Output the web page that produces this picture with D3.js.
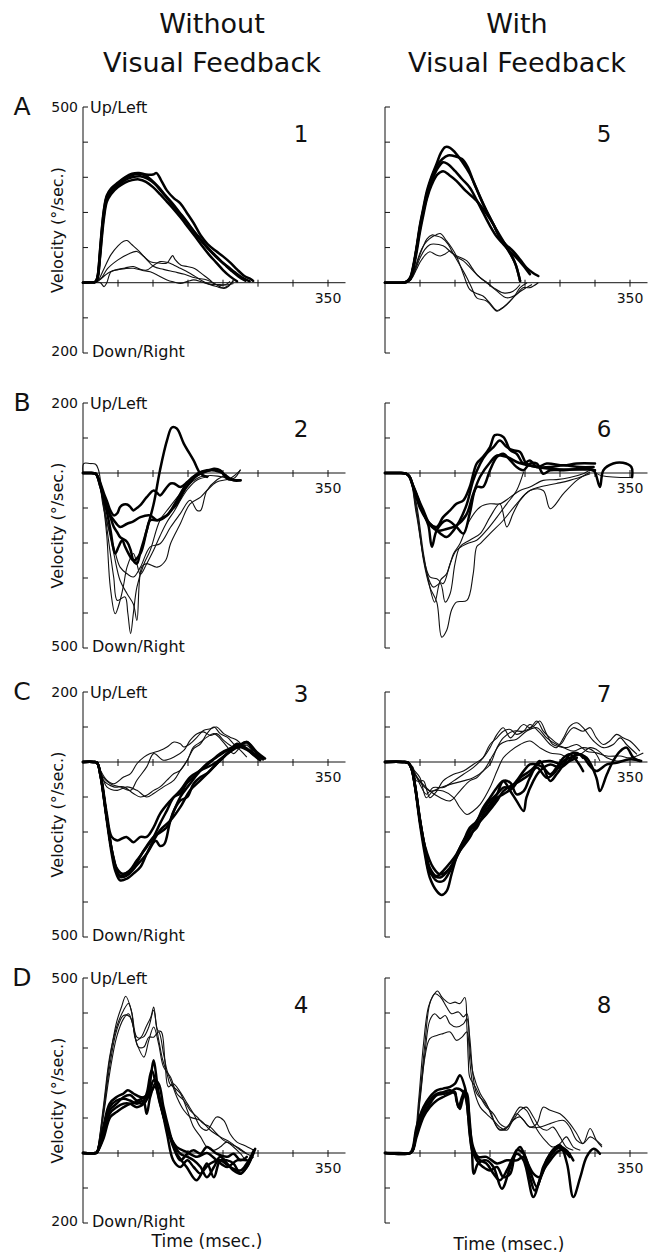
<!DOCTYPE html>
<html lang="en">
<head>
<meta charset="utf-8">
<script src="https://d3js.org/d3.v7.min.js"></script>
<title>Eye velocity traces</title>
<style>
  body { margin: 0; background: #fff; }
  text { font-family: "DejaVu Sans", sans-serif; fill: #111; }
</style>
</head>
<body>
<script>

// ---- data: each trace is a list of [time (ms), velocity (deg/s, + = up/left)] ----

var columnTitles = [["Without", "Visual Feedback"], ["With", "Visual Feedback"]];
var rowLetters = ["A", "B", "C", "D"];
var panelNumbers = [[1, 5], [2, 6], [3, 7], [4, 8]];
var yTopValues = [500, 200, 200, 500];
var yBottomValues = [-200, -500, -500, -200];
var timeTicks = [50, 100, 150, 200, 250, 300, 350];
var timeLabel = "Time (msec.)";
var velocityLabel = "Velocity (\u00B0/sec.)";

// panel 1
var p1Thick = [
  [[0,0],[10,1],[18,3],[21,20],[24,80],[27,150],[30,205],[34,245],[40,265],[50,282],[60,298],[70,306],[78,310],[88,306],[98,292],[108,272],[118,248],[128,225],[138,200],[148,175],[158,148],[168,124],[178,100],[188,80],[198,60],[208,44],[218,28],[228,14],[238,4]],
  [[0,0],[10,1],[18,3],[21,20],[24,85],[27,155],[30,210],[34,248],[40,268],[50,285],[60,300],[70,310],[80,312],[90,308],[100,308],[105,312],[112,290],[120,262],[130,240],[139,226],[148,200],[158,170],[168,135],[178,110],[190,90],[200,75],[210,58],[220,38],[230,20],[240,10],[243,5]],
  [[0,0],[10,1],[18,3],[21,15],[24,70],[27,140],[30,195],[34,238],[40,258],[50,278],[60,292],[70,300],[82,303],[92,296],[102,282],[112,260],[122,236],[132,212],[142,188],[152,162],[162,136],[172,112],[182,90],[192,70],[202,52],[212,34],[222,18],[232,6]],
  [[0,0],[10,1],[18,3],[21,15],[24,65],[27,130],[30,185],[34,230],[40,252],[50,272],[60,285],[70,292],[80,294],[90,287],[100,272],[110,252],[120,230],[130,208],[140,184],[150,158],[160,132],[170,105],[180,80],[190,58],[200,36],[210,18],[220,4]]
];
var p1Thin = [
  [[0,0],[10,1],[18,2],[22,8],[30,40],[40,80],[50,105],[58,118],[63,120],[70,108],[80,90],[90,68],[101,46],[115,38],[130,31],[145,24],[160,14],[177,8],[190,-5],[201,-16],[208,-10],[215,8]],
  [[0,0],[18,2],[25,10],[35,40],[50,65],[65,82],[77,89],[86,76],[96,60],[108,56],[120,56],[125,70],[128,77],[132,65],[140,50],[149,46],[160,40],[170,25],[180,10],[187,-2],[197,-8],[205,-4],[210,4]],
  [[0,0],[18,2],[25,10],[32,22],[39,31],[50,38],[60,42],[72,46],[82,38],[91,36],[100,48],[110,60],[120,58],[130,50],[139,41],[150,30],[160,18],[168,8],[180,-4],[191,-11],[200,-15],[206,-10],[215,4]],
  [[0,0],[18,2],[25,0],[30,-11],[34,0],[40,31],[50,37],[60,40],[72,41],[85,35],[96,31],[108,20],[120,8],[130,2],[139,-2],[150,4],[158,8],[170,2],[180,-4],[195,-5],[206,-6],[215,-2]]
];

// panel 5
var p5Thick = [
  [[0,0],[20,0],[30,2],[36,15],[40,45],[45,100],[50,165],[55,215],[60,262],[67,305],[74,340],[80,370],[86,386],[93,384],[100,371],[110,345],[121,310],[130,270],[140,224],[150,185],[160,148],[170,115],[180,80],[187,50],[193,5]],
  [[0,0],[20,0],[30,2],[36,12],[40,40],[45,95],[50,160],[55,210],[60,255],[67,300],[74,332],[82,352],[90,362],[100,360],[110,352],[118,330],[126,290],[135,248],[145,205],[155,165],[164,129],[173,108],[183,90],[193,66],[202,43],[210,30],[219,19]],
  [[0,0],[20,0],[30,2],[36,12],[40,40],[45,95],[50,155],[55,205],[60,245],[67,290],[75,325],[83,343],[90,337],[100,318],[110,295],[121,271],[131,235],[140,200],[150,162],[160,130],[169,110],[178,90],[188,71],[198,48],[207,24]],
  [[0,0],[20,0],[30,2],[36,10],[40,35],[45,85],[50,145],[55,195],[60,240],[67,280],[75,308],[83,317],[92,306],[102,290],[115,262],[131,233],[145,196],[155,165],[165,125],[175,95],[185,60],[193,5]]
];
var p5Thin = [
  [[0,0],[20,0],[30,2],[36,8],[40,25],[45,55],[50,85],[55,105],[60,118],[67,130],[73,136],[79,140],[88,119],[95,100],[102,76],[112,24],[121,-19],[130,-30],[140,-38],[150,-58],[160,-79],[170,-68],[179,-52],[186,-35],[193,-14],[203,0]],
  [[0,0],[20,0],[30,2],[36,8],[40,22],[45,50],[50,80],[55,105],[60,125],[67,136],[72,134],[81,128],[90,110],[98,81],[107,50],[117,14],[124,-15],[131,-43],[145,-52],[160,-81],[166,-75],[174,-62],[188,-33],[202,-14],[210,-5]],
  [[0,0],[20,0],[30,2],[36,8],[40,20],[45,45],[50,70],[57,95],[64,108],[69,110],[83,105],[98,81],[117,62],[125,40],[131,24],[145,0],[160,-24],[174,-43],[188,-33],[197,-14],[207,-14],[219,0]],
  [[0,0],[20,0],[30,2],[36,6],[40,18],[45,38],[50,58],[57,78],[64,88],[72,80],[79,76],[86,82],[93,90],[100,76],[112,62],[124,38],[136,14],[146,0],[155,-14],[169,-29],[183,-24],[193,-5]]
];

// panel 2
var p2Thick = [
  [[0,0],[10,0],[18,-2],[20,-7],[25,-30],[30,-59],[35,-85],[39,-107],[44,-121],[49,-115],[53,-97],[58,-90],[63,-90],[68,-98],[72,-107],[77,-100],[82,-92],[91,-69],[101,-50],[106,-57],[110,-64],[120,-40],[125,-30],[130,-30],[139,-40],[149,-26],[158,-11],[168,-2],[178,6],[187,12],[196,8],[206,-16],[215,-20],[225,-21]],
  [[0,0],[10,0],[18,-2],[20,-7],[25,-40],[30,-75],[34,-97],[39,-125],[44,-154],[49,-170],[53,-183],[63,-197],[68,-220],[72,-250],[77,-259],[82,-225],[87,-192],[91,-164],[96,-135],[106,-135],[113,-128],[120,-121],[127,-105],[134,-88],[148,-40],[163,-7],[172,3],[182,8]],
  [[0,0],[10,0],[18,-2],[20,-8],[25,-40],[30,-80],[34,-110],[39,-160],[46,-230],[51,-210],[56,-192],[60,-210],[65,-230],[72,-250],[82,-230],[91,-164],[101,-88],[110,8],[120,93],[127,130],[134,127],[144,84],[158,36],[168,-2],[177,-11]],
  [[0,0],[10,0],[18,-2],[20,-6],[25,-35],[30,-70],[34,-97],[39,-120],[44,-135],[53,-154],[63,-145],[72,-138],[82,-126],[96,-121],[106,-135],[120,-121],[134,-78],[148,-30],[163,-2],[177,8],[196,3],[215,-21],[225,-21]]
];
var p2Thin = [
  [[0,0],[1,27],[10,27],[18,25],[22,10],[29,-88],[34,-180],[39,-326],[46,-402],[53,-364],[58,-320],[63,-268],[72,-230],[77,-260],[82,-290],[91,-259],[101,-220],[110,-180],[120,-140],[130,-110],[140,-75],[150,-45],[163,-20],[180,-10]],
  [[0,0],[18,-2],[22,-15],[30,-100],[39,-230],[44,-300],[49,-364],[60,-354],[64,-400],[68,-459],[72,-400],[77,-326],[87,-260],[96,-221],[110,-135],[124,-97],[139,-59],[153,-30],[168,-11],[182,-7],[196,-10],[215,-16],[225,10]],
  [[0,0],[18,-2],[22,-15],[34,-135],[44,-230],[53,-307],[63,-345],[72,-375],[77,-421],[84,-268],[91,-259],[106,-269],[118,-250],[125,-202],[139,-145],[153,-88],[168,-69],[177,-50],[191,-26],[210,-16],[225,8]],
  [[0,0],[18,-2],[22,-12],[29,-97],[44,-211],[53,-269],[63,-288],[72,-297],[82,-269],[96,-211],[110,-202],[125,-155],[139,-116],[153,-78],[163,-107],[168,-107],[177,-50],[191,-20],[205,-5]]
];

// panel 6
var p6Thick = [
  [[0,0],[20,0],[30,-2],[35,-10],[40,-35],[45,-59],[50,-85],[55,-107],[64,-145],[74,-154],[83,-126],[93,-107],[102,-88],[112,-78],[121,-40],[131,27],[140,46],[150,74],[157,108],[169,103],[179,65],[188,55],[198,27],[207,36],[217,17],[231,27],[255,22],[274,27],[300,27]],
  [[0,0],[20,0],[30,-2],[35,-10],[40,-38],[45,-65],[50,-95],[55,-116],[62,-150],[67,-211],[74,-163],[88,-135],[102,-154],[112,-173],[121,-116],[131,-40],[140,-40],[150,8],[160,46],[169,55],[179,36],[188,17],[198,8],[207,27],[217,27],[226,-2],[236,8],[255,8],[283,12],[300,8]],
  [[0,0],[20,0],[30,-2],[35,-12],[40,-40],[45,-70],[50,-100],[60,-135],[69,-154],[79,-173],[88,-183],[98,-164],[107,-135],[117,-88],[126,-21],[136,27],[145,55],[155,74],[164,93],[174,74],[183,65],[193,60],[202,27],[217,17],[236,17],[255,22],[278,17],[298,17]],
  [[0,0],[20,0],[30,-2],[35,-10],[40,-36],[45,-62],[50,-90],[55,-115],[65,-150],[75,-165],[88,-160],[102,-150],[116,-120],[126,-60],[136,-10],[150,30],[160,50],[175,45],[190,30],[210,20],[235,12],[260,10],[285,10],[298,8],[307,-40],[312,8],[326,27],[340,29],[352,17],[353,-12]]
];
var p6Thin = [
  [[0,0],[20,0],[30,-2],[36,-15],[45,-88],[55,-230],[62,-307],[71,-369],[79,-307],[88,-288],[98,-230],[107,-202],[121,-135],[136,-97],[150,-88],[164,-88],[179,-69],[193,-50],[207,-40],[226,-21],[245,-19],[264,-13],[283,-2],[293,7],[310,-8],[352,-13]],
  [[0,0],[20,0],[30,-2],[36,-15],[45,-100],[55,-250],[64,-326],[74,-369],[81,-469],[88,-450],[95,-392],[102,-369],[117,-364],[126,-288],[131,-211],[136,-202],[150,-173],[169,-135],[188,-88],[207,-50],[226,-50],[236,-102],[255,-59],[274,-21],[293,3]],
  [[0,0],[20,0],[30,-2],[36,-15],[45,-110],[60,-288],[69,-326],[79,-316],[86,-369],[93,-345],[100,-259],[107,-211],[121,-192],[136,-173],[150,-126],[164,-88],[174,-154],[183,-116],[193,-78],[207,-50],[221,-40],[245,-30],[264,-21],[293,-2]],
  [[0,0],[20,0],[30,-2],[36,-15],[45,-120],[64,-297],[74,-302],[83,-316],[93,-259],[102,-221],[117,-202],[131,-192],[145,-164],[160,-126],[174,-88],[188,-50],[198,3]]
];

// panel 3
var p3Thick = [
  [[0,0],[15,0],[20,-2],[25,-33],[34,-148],[41,-214],[49,-224],[62,-214],[72,-229],[82,-214],[91,-214],[101,-186],[110,-148],[125,-110],[139,-81],[153,-43],[168,-24],[187,-5],[206,24],[220,43],[234,57],[244,33],[258,10]],
  [[0,0],[15,0],[20,-2],[25,-40],[34,-167],[41,-262],[46,-310],[53,-338],[63,-333],[72,-319],[82,-300],[91,-262],[101,-224],[110,-195],[125,-167],[139,-129],[153,-81],[168,-52],[182,-24],[196,5],[210,29],[225,48],[234,57],[248,29],[260,10]],
  [[0,0],[15,0],[20,-2],[25,-38],[34,-160],[41,-250],[46,-295],[56,-319],[65,-314],[77,-281],[91,-243],[101,-214],[110,-176],[120,-138],[130,-100],[139,-90],[148,-62],[163,-33],[177,-5],[191,14],[206,33],[220,48],[230,43],[244,24],[258,10]],
  [[0,0],[15,0],[20,-2],[25,-38],[34,-160],[43,-270],[53,-328],[63,-324],[77,-295],[91,-262],[104,-225],[110,-240],[116,-235],[125,-167],[139,-100],[153,-62],[168,-24],[182,0],[196,24],[210,38],[225,43],[239,29],[253,14]],
  [[0,0],[15,0],[20,-2],[25,-38],[34,-160],[43,-268],[53,-324],[72,-300],[87,-252],[101,-214],[120,-186],[130,-138],[139,-110],[149,-100],[158,-62],[168,-43],[177,-33],[191,-5],[201,14],[210,33],[220,52],[230,43],[244,19],[253,5]]
];
var p3Thin = [
  [[0,0],[15,0],[20,-2],[25,-24],[34,-52],[44,-62],[58,-43],[68,-33],[77,-5],[87,14],[96,24],[110,33],[120,43],[130,57],[139,52],[144,43],[153,52],[163,71],[172,90],[182,95],[191,100],[201,81],[210,71],[220,62],[230,43],[244,19],[258,5]],
  [[0,0],[15,0],[20,-2],[25,-33],[39,-62],[53,-71],[68,-81],[77,-52],[91,-14],[101,24],[115,5],[130,14],[144,33],[153,62],[163,81],[172,86],[182,76],[191,81],[201,62],[210,48],[220,38],[234,48],[244,24],[258,5]],
  [[0,0],[15,0],[20,-2],[29,-52],[44,-71],[58,-71],[72,-90],[82,-100],[91,-95],[101,-81],[110,-71],[120,-52],[130,-33],[139,-24],[149,5],[158,38],[168,52],[177,81],[187,100],[196,81],[206,71],[215,52],[225,33],[234,14]],
  [[0,0],[15,0],[20,-2],[34,-71],[49,-81],[63,-71],[77,-81],[91,-100],[101,-90],[115,-71],[130,-52],[139,-24],[149,5],[158,43],[168,57],[177,71],[187,81],[196,67],[206,43],[215,24],[225,43],[234,52],[244,24]]
];

// panel 7
var p7Thick = [
  [[0,0],[25,0],[33,-2],[38,-20],[43,-73],[50,-178],[57,-264],[64,-330],[74,-369],[81,-380],[88,-369],[95,-321],[102,-273],[112,-226],[121,-197],[131,-169],[140,-140],[150,-111],[160,-92],[169,-73],[179,-73],[188,-54],[198,-26],[207,-7],[217,-7],[226,-16],[236,-35],[245,-16],[255,12],[264,22],[274,3],[283,-26]],
  [[0,0],[25,0],[33,-2],[38,-20],[43,-70],[50,-170],[57,-250],[64,-311],[74,-340],[83,-340],[93,-311],[102,-273],[112,-235],[121,-207],[131,-188],[140,-150],[150,-121],[160,-92],[169,-54],[179,-59],[188,-92],[198,-83],[207,-45],[221,3],[236,-54],[245,-35],[255,-7],[264,22],[274,26],[283,12]],
  [[0,0],[25,0],[33,-2],[38,-20],[43,-70],[50,-168],[57,-245],[64,-302],[74,-326],[83,-311],[93,-288],[102,-264],[112,-226],[121,-188],[131,-169],[140,-131],[150,-102],[160,-73],[169,-54],[179,-83],[188,-111],[198,-140],[202,-102],[212,-54],[221,-26],[236,-7],[250,-16],[264,3],[274,12]],
  [[0,0],[25,0],[33,-2],[38,-18],[43,-68],[50,-165],[57,-240],[69,-302],[79,-321],[93,-302],[107,-245],[121,-197],[136,-169],[150,-131],[160,-102],[169,-92],[183,-73],[193,-45],[207,-26],[221,-2],[236,3],[255,-7],[274,22],[288,12],[302,-45],[307,-83],[317,-35],[326,3],[336,31],[345,41],[355,12],[364,3]],
  [[0,0],[25,0],[33,-2],[38,-18],[43,-68],[50,-165],[57,-245],[64,-316],[79,-330],[93,-302],[107,-254],[121,-216],[131,-178],[145,-149],[160,-111],[169,-83],[179,-69],[193,-54],[207,-35],[217,-16],[231,-45],[240,-35],[255,3],[264,12],[279,22],[293,-12],[302,-26],[317,-7],[331,-2],[350,8],[366,3]]
];
var p7Thin = [
  [[0,0],[25,0],[33,-2],[40,-15],[45,-54],[55,-54],[60,-83],[64,-102],[74,-83],[83,-54],[98,-35],[112,-26],[126,-7],[140,12],[150,41],[160,79],[169,98],[179,69],[188,88],[198,107],[207,98],[217,117],[226,88],[236,69],[250,50],[260,79],[269,98],[283,88],[293,98],[302,69],[312,50],[321,60],[331,79],[340,69],[350,60],[364,31]],
  [[0,0],[25,0],[33,-2],[40,-20],[50,-64],[59,-92],[69,-73],[83,-73],[98,-54],[112,-35],[126,-16],[140,12],[150,50],[160,69],[169,88],[179,93],[188,79],[198,88],[207,107],[221,84],[236,50],[245,41],[255,69],[264,102],[274,112],[283,98],[298,60],[312,41],[326,50],[336,69],[345,50],[360,22]],
  [[0,0],[25,0],[33,-2],[40,-20],[50,-45],[59,-102],[69,-83],[83,-83],[98,-102],[107,-130],[117,-150],[126,-140],[136,-121],[150,-73],[160,-26],[169,12],[179,31],[193,50],[207,60],[221,41],[236,26],[250,22],[264,12],[279,22],[293,41],[302,36],[317,12],[331,3],[350,8]],
  [[0,0],[25,0],[33,-2],[40,-25],[50,-54],[64,-83],[79,-102],[93,-111],[107,-83],[121,-54],[131,-45],[140,-26],[150,-7],[160,41],[169,69],[183,88],[198,88],[212,102],[221,117],[231,79],[240,50],[255,41],[269,31],[283,41],[298,31],[307,3]],
  [[0,0],[25,0],[33,-2],[42,-35],[64,-83],[79,-73],[93,-64],[112,-54],[126,-45],[140,-26],[155,22],[164,50],[174,60],[188,65],[202,88],[217,98],[231,69],[245,50],[259,41],[274,50],[288,31],[302,26],[317,17],[336,17],[350,12],[369,26]]
];

// panel 4
var p4Thick = [
  [[0,0],[18,0],[20,2],[29,74],[38,141],[48,160],[58,170],[64,179],[72,170],[82,160],[91,160],[98,236],[101,265],[106,198],[110,150],[117,93],[125,46],[134,-2],[148,-40],[162,-78],[172,-50],[182,-30],[196,-21],[210,-40],[225,-50],[234,-30],[244,8]],
  [[0,0],[18,0],[20,2],[29,65],[38,131],[48,150],[58,155],[67,150],[77,141],[86,150],[91,112],[96,160],[103,198],[110,150],[120,55],[129,-21],[139,-40],[149,-21],[158,-40],[168,-59],[177,-30],[187,-69],[196,-21],[206,-21],[215,-30],[225,-59],[234,-40],[246,12]],
  [[0,0],[18,0],[20,2],[29,55],[38,122],[48,141],[58,160],[68,165],[77,150],[87,160],[94,170],[101,208],[108,198],[115,131],[122,74],[129,27],[139,-2],[149,-11],[158,-21],[168,-40],[177,-69],[187,-40],[196,-11],[206,-30],[215,-50],[225,-59],[234,-40],[244,3]],
  [[0,0],[18,0],[20,2],[29,46],[38,112],[48,131],[58,141],[67,141],[77,131],[87,141],[96,170],[103,189],[110,141],[120,74],[129,17],[139,-21],[149,-2],[158,8],[168,-2],[177,17],[191,-2],[206,-11],[215,-2],[225,-21],[234,-11]],
  [[0,0],[18,0],[20,2],[29,40],[39,103],[48,117],[58,131],[68,141],[77,146],[84,141],[91,170],[98,236],[106,179],[115,103],[125,46],[134,17],[148,3],[163,-11],[177,0],[191,-21],[206,-40],[220,-21],[234,-21]]
];
var p4Thin = [
  [[0,0],[10,0],[18,0],[20,5],[29,122],[38,265],[48,374],[55,417],[61,448],[69,408],[76,322],[83,331],[90,360],[97,389],[101,417],[105,360],[110,303],[114,265],[120,227],[124,198],[129,189],[139,170],[149,122],[158,74],[168,46],[177,17],[187,8],[196,17],[205,31],[215,17],[225,-2],[234,-21],[244,-11]],
  [[0,0],[18,0],[20,5],[29,131],[38,274],[48,360],[58,408],[65,427],[70,398],[77,331],[86,331],[94,360],[101,408],[107,350],[112,346],[117,265],[122,189],[129,198],[139,174],[149,141],[158,112],[168,74],[177,65],[191,103],[201,93],[210,55],[220,31],[230,22],[244,8]],
  [[0,0],[18,0],[20,4],[29,112],[38,246],[48,350],[58,393],[67,389],[77,312],[87,274],[94,322],[101,360],[108,312],[115,246],[125,217],[134,170],[144,150],[153,122],[163,103],[172,84],[182,74],[191,55],[201,36],[210,27],[220,17],[234,-2]],
  [[0,0],[18,0],[20,3],[29,103],[38,227],[48,331],[58,384],[65,398],[72,360],[79,303],[87,303],[94,331],[101,331],[108,346],[115,284],[120,236],[127,198],[134,160],[144,122],[153,103],[168,93],[182,65],[196,46],[210,31],[225,8],[239,-7]]
];

// panel 8
var p8Thick = [
  [[0,0],[20,0],[36,0],[40,17],[45,74],[55,131],[64,160],[74,179],[83,184],[93,189],[100,198],[107,222],[114,189],[119,131],[124,17],[127,-59],[133,-30],[145,-21],[155,-40],[167,-102],[179,-40],[188,-2],[198,-21],[212,-126],[221,-78],[236,-11],[250,17],[259,8],[269,-21]],
  [[0,0],[36,0],[40,12],[45,65],[55,122],[64,150],[74,169],[83,174],[93,179],[100,169],[105,131],[110,160],[114,179],[119,103],[124,17],[131,-21],[140,-40],[150,-50],[160,-40],[169,-69],[179,-59],[188,8],[198,-2],[207,-50],[217,-97],[226,-40],[236,-2],[245,17],[255,8],[264,-11]],
  [[0,0],[36,0],[40,10],[45,55],[55,112],[64,141],[74,165],[83,169],[93,174],[102,184],[112,174],[117,141],[121,55],[126,-2],[136,-21],[145,-30],[155,-59],[164,-78],[174,-50],[183,-11],[193,17],[202,-21],[212,-59],[221,-69],[231,-21],[240,8],[250,22],[260,-30],[269,-126],[279,-69],[288,-11],[298,12],[307,-2]],
  [[0,0],[36,0],[40,8],[45,45],[55,103],[64,131],[74,150],[83,160],[93,170],[100,174],[102,150],[107,126],[112,160],[117,170],[121,74],[126,17],[133,-11],[145,-11],[160,-30],[174,-21],[188,-21],[198,-11],[207,-69],[214,-107],[226,-50],[236,-21],[250,8],[264,-2]]
];
var p8Thin = [
  [[0,0],[20,0],[36,0],[40,8],[48,150],[55,312],[62,417],[69,450],[75,463],[81,446],[86,436],[93,427],[100,431],[107,427],[114,444],[117,360],[119,265],[121,217],[129,189],[136,160],[145,131],[155,112],[164,84],[174,74],[183,103],[193,131],[202,122],[212,84],[221,55],[231,31],[240,17],[250,27],[259,46],[269,17],[279,8]],
  [[0,0],[36,0],[40,6],[50,170],[57,312],[64,427],[71,455],[79,446],[88,417],[95,398],[105,403],[112,389],[117,398],[121,303],[126,226],[136,170],[145,141],[155,93],[164,65],[174,74],[183,93],[193,122],[202,131],[212,103],[221,74],[231,65],[240,74],[250,46],[259,17],[269,8]],
  [[0,0],[36,0],[40,5],[50,160],[57,284],[64,379],[71,398],[79,384],[86,393],[93,369],[102,360],[112,369],[117,384],[121,331],[126,217],[131,170],[140,150],[150,122],[160,74],[169,65],[179,84],[188,112],[198,93],[207,74],[217,84],[226,131],[236,122],[250,112],[264,84],[274,55],[283,27],[293,70],[302,36],[310,17]],
  [[0,0],[36,0],[40,5],[50,150],[57,274],[64,327],[74,336],[83,341],[93,346],[102,322],[110,331],[117,346],[121,265],[126,189],[136,131],[145,112],[155,93],[164,74],[174,65],[183,93],[193,103],[207,74],[221,74],[236,84],[255,93],[264,74],[274,36],[283,27],[293,46],[302,36],[310,22]]
];

var thickByPanel = [[p1Thick, p5Thick], [p2Thick, p6Thick], [p3Thick, p7Thick], [p4Thick, p8Thick]];
var thinByPanel = [[p1Thin, p5Thin], [p2Thin, p6Thin], [p3Thin, p7Thin], [p4Thin, p8Thin]];

// ---- layout ----
var width = 651, height = 1257;
var colAxisX = [83, 385];          // pixel x of time 0
var colCenter = [212, 517];
var rowTop = [107, 403, 692, 978];
var rowBottom = [353, 648, 937, 1223];
var numberY = [134, 429, 694, 1005];
var pxPerMs = 0.7;

var svg = d3.select("body").append("svg")
  .attr("width", width)
  .attr("height", height);

// column titles
columnTitles.forEach(function (lines, c) {
  svg.append("text").attr("x", colCenter[c]).attr("y", 23)
    .attr("text-anchor", "middle").attr("dominant-baseline", "central")
    .style("font-size", "27px").text(lines[0]);
  svg.append("text").attr("x", colCenter[c]).attr("y", 62)
    .attr("text-anchor", "middle").attr("dominant-baseline", "central")
    .style("font-size", "27px").text(lines[1]);
});

rowLetters.forEach(function (letter, r) {
  var yScale = d3.scaleLinear()
    .domain([yBottomValues[r], yTopValues[r]])
    .range([rowBottom[r], rowTop[r]]);
  var y0 = yScale(0);

  for (var c = 0; c < 2; c++) {
    var ax = colAxisX[c];
    var xScale = d3.scaleLinear().domain([0, 350]).range([ax, ax + 350 * pxPerMs]);
    var g = svg.append("g");

    // y axis with inward ticks every 100
    g.append("line")
      .attr("x1", ax).attr("x2", ax)
      .attr("y1", rowTop[r]).attr("y2", rowBottom[r])
      .attr("stroke", "#111").attr("stroke-width", 1);
    g.selectAll(".yt")
      .data(d3.range(yBottomValues[r], yTopValues[r] + 1, 100).filter(function (v) { return v !== 0; }))
      .enter().append("line")
      .attr("x1", ax).attr("x2", ax + 5)
      .attr("y1", function (v) { return yScale(v); })
      .attr("y2", function (v) { return yScale(v); })
      .attr("stroke", "#111").attr("stroke-width", 1);

    // time axis along zero velocity
    g.append("line")
      .attr("x1", ax).attr("x2", xScale(375))
      .attr("y1", y0).attr("y2", y0)
      .attr("stroke", "#111").attr("stroke-width", 1);
    g.selectAll(".xt").data(timeTicks).enter().append("line")
      .attr("x1", function (t) { return xScale(t); })
      .attr("x2", function (t) { return xScale(t); })
      .attr("y1", y0 - 3).attr("y2", y0 + 4)
      .attr("stroke", "#111").attr("stroke-width", 1);
    g.append("text")
      .attr("x", xScale(350)).attr("y", y0 + 15)
      .attr("text-anchor", "middle").attr("dominant-baseline", "central")
      .style("font-size", "14px").text(timeTicks[timeTicks.length - 1]);

    // traces
    var line = d3.line()
      .x(function (d) { return xScale(d[0]); })
      .y(function (d) { return yScale(d[1]); })
      .curve(d3.curveCatmullRom.alpha(0.5));

    g.selectAll(".thin").data(thinByPanel[r][c]).enter().append("path")
      .attr("d", line).attr("fill", "none")
      .attr("stroke", "#111").attr("stroke-width", 1.1)
      .attr("stroke-linejoin", "round");
    g.selectAll(".thick").data(thickByPanel[r][c]).enter().append("path")
      .attr("d", line).attr("fill", "none")
      .attr("stroke", "#000").attr("stroke-width", 2.5)
      .attr("stroke-linejoin", "round").attr("stroke-linecap", "round");

    // panel number
    g.append("text")
      .attr("x", c === 0 ? 301 : 604).attr("y", numberY[r])
      .attr("text-anchor", "middle").attr("dominant-baseline", "central")
      .style("font-size", "23px").text(panelNumbers[r][c]);

    if (r === rowLetters.length - 1) {
      g.append("text")
        .attr("x", c === 0 ? 207 : 509).attr("y", c === 0 ? 1241 : 1244)
        .attr("text-anchor", "middle").attr("dominant-baseline", "central")
        .style("font-size", "17px").text(timeLabel);
    }
  }

  // left column labels
  var ax0 = colAxisX[0];
  svg.append("text").attr("x", 22).attr("y", rowTop[r] - 1)
    .attr("text-anchor", "middle").attr("dominant-baseline", "central")
    .style("font-size", "25px").text(letter);
  svg.append("text").attr("x", ax0 - 5).attr("y", rowTop[r])
    .attr("text-anchor", "end").attr("dominant-baseline", "central")
    .style("font-size", "14px").text(Math.abs(yTopValues[r]));
  svg.append("text").attr("x", ax0 + 7).attr("y", rowTop[r])
    .attr("dominant-baseline", "central")
    .style("font-size", "16px").text("Up/Left");
  svg.append("text").attr("x", ax0 - 5).attr("y", rowBottom[r] - 2)
    .attr("text-anchor", "end").attr("dominant-baseline", "central")
    .style("font-size", "14px").text(Math.abs(yBottomValues[r]));
  svg.append("text").attr("x", ax0 + 9).attr("y", rowBottom[r] - 2)
    .attr("dominant-baseline", "central")
    .style("font-size", "16px").text("Down/Right");
  svg.append("text")
    .attr("transform", "translate(57," + ((rowTop[r] + rowBottom[r]) / 2) + ") rotate(-90)")
    .attr("text-anchor", "middle").attr("dominant-baseline", "central")
    .style("font-size", "16px").text(velocityLabel);
});

</script>
</body>
</html>
